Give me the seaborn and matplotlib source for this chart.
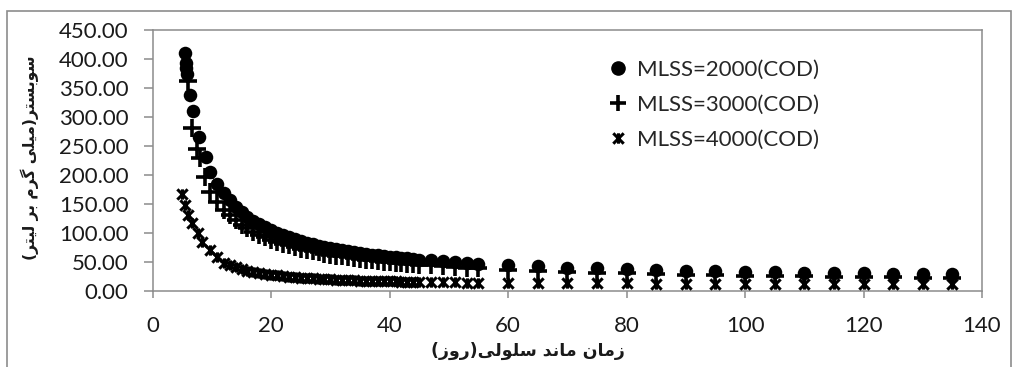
import numpy as np
import pandas as pd
import matplotlib
matplotlib.use("Agg")
import matplotlib.pyplot as plt
from matplotlib.path import Path
from matplotlib.patches import Rectangle
from matplotlib.lines import Line2D
import seaborn as sns

# ---- data: substrate concentration vs. sludge retention time ----
srt_head_2000 = [5.4, 5.55, 5.7, 5.85, 6.3, 6.8, 7.8, 9.0, 9.7, 10.9]
cod_head_2000 = [411, 393, 385, 375, 338, 310, 265, 231, 205, 185]

srt_head_3000 = [5.9, 6.6, 7.4, 8.0, 8.8, 9.7, 10.9]
cod_head_3000 = [362, 281, 245, 229, 197, 171, 154]

srt_head_4000 = [5.0, 5.5, 6.0, 6.6, 7.6, 8.4, 9.6, 10.8]
cod_head_4000 = [168, 148, 131, 117, 100, 85, 71, 59]

srt_common = [12, 13, 14, 15, 16, 17, 18, 19, 20, 21, 22, 23, 24, 25, 26, 27,
              28, 29, 30, 31, 32, 33, 34, 35, 36, 37, 38, 39, 40, 41, 42, 43,
              44, 45, 47, 49, 51, 53, 55, 60, 65, 70, 75, 80, 85, 90, 95, 100,
              105, 110, 115, 120, 125, 130, 135]

cod_2000 = [169.1, 156.3, 145.5, 136.3, 128.3, 121.3, 115.1, 109.6, 104.6, 100.2,
            96.2, 92.5, 89.2, 86.2, 83.4, 80.8, 78.4, 76.1, 74.1, 72.1, 70.3,
            68.6, 67.0, 65.5, 64.1, 62.8, 61.5, 60.3, 59.2, 58.1, 57.1, 56.1,
            55.2, 54.3, 52.6, 51.1, 49.7, 48.4, 47.2, 44.5, 42.3, 40.4, 38.8,
            37.3, 36.0, 34.9, 33.9, 33.0, 32.2, 31.4, 30.8, 30.2, 29.6, 29.1, 28.6]

cod_3000 = [140.5, 130.5, 122.0, 114.6, 108.1, 102.4, 97.3, 92.8, 88.7, 85.0,
            81.6, 78.6, 75.8, 73.2, 70.8, 68.6, 66.5, 64.6, 62.8, 61.1, 59.6,
            58.1, 56.7, 55.4, 54.2, 53.0, 51.9, 50.8, 49.9, 48.9, 48.0, 47.1,
            46.3, 45.5, 44.1, 42.7, 41.5, 40.3, 39.3, 36.9, 34.9, 33.2, 31.7,
            30.4, 29.3, 28.3, 27.4, 26.5, 25.8, 25.1, 24.5, 24.0, 23.4, 23.0, 22.5]

cod_4000 = [49, 45, 41, 38, 35, 33, 31, 29.5, 28, 27, 26, 25, 24, 23.2, 22.5,
            21.8, 21.2, 20.6, 20.1, 19.6, 19.2, 18.8, 18.4, 18.1, 17.8, 17.5,
            17.2, 17.0, 16.7, 16.5, 16.3, 16.1, 15.9, 15.7, 15.3, 15.0, 14.7,
            14.5, 14.3, 13.8, 13.5, 13.3, 13.1, 13.0, 12.9, 12.8, 12.7, 12.6,
            12.5, 12.4, 12.3, 12.3, 12.2, 12.1, 12.0]

series_labels = ["MLSS=2000(COD)", "MLSS=3000(COD)", "MLSS=4000(COD)"]
x_ticks = [0, 20, 40, 60, 80, 100, 120, 140]
y_ticks = [0, 50, 100, 150, 200, 250, 300, 350, 400, 450]
x_title = "زمان ماند سلولی(روز)"
y_title = "سوبستر(میلی گرم بر لیتر)"

# ---- minimal Arabic-script shaping (presentation forms + visual order) ----
FORMS = {
    'ا': ('\uFE8D', '\uFE8E', None, None),
    'ب': ('\uFE8F', '\uFE90', '\uFE91', '\uFE92'),
    'ت': ('\uFE95', '\uFE96', '\uFE97', '\uFE98'),
    'د': ('\uFEA9', '\uFEAA', None, None),
    'ر': ('\uFEAD', '\uFEAE', None, None),
    'ز': ('\uFEAF', '\uFEB0', None, None),
    'س': ('\uFEB1', '\uFEB2', '\uFEB3', '\uFEB4'),
    'ل': ('\uFEDD', '\uFEDE', '\uFEDF', '\uFEE0'),
    'م': ('\uFEE1', '\uFEE2', '\uFEE3', '\uFEE4'),
    'ن': ('\uFEE5', '\uFEE6', '\uFEE7', '\uFEE8'),
    'و': ('\uFEED', '\uFEEE', None, None),
    'ی': ('\uFBFC', '\uFBFD', '\uFBFE', '\uFBFF'),
    'گ': ('\uFB92', '\uFB93', '\uFB94', '\uFB95'),
}


def shape_rtl(text):
    out = []
    for i, ch in enumerate(text):
        forms = FORMS.get(ch)
        if forms is None:
            out.append(ch)
            continue
        prev = text[i - 1] if i > 0 else None
        nxt = text[i + 1] if i + 1 < len(text) else None
        join_prev = prev in FORMS and FORMS[prev][2] is not None
        join_next = forms[2] is not None and nxt in FORMS
        if join_prev and join_next:
            out.append(forms[3])
        elif join_prev:
            out.append(forms[1])
        elif join_next:
            out.append(forms[2])
        else:
            out.append(forms[0])
    mirror = {'(': ')', ')': '('}
    return ''.join(mirror.get(c, c) for c in reversed(out))


# ---- long-form table ----
frames = []
for label, xs, ys in [
    (series_labels[0], srt_head_2000 + srt_common, cod_head_2000 + cod_2000),
    (series_labels[1], srt_head_3000 + srt_common, cod_head_3000 + cod_3000),
    (series_labels[2], srt_head_4000 + srt_common, cod_head_4000 + cod_4000),
]:
    frames.append(pd.DataFrame({"srt": xs, "cod": ys, "series": label}))
df = pd.concat(frames, ignore_index=True)

sns.set_theme(style="white")
plt.rcParams["font.family"] = ["Lato", "DejaVu Sans"]

star = Path([(-1, -1), (1, 1), (-1, 1), (1, -1), (0, -1), (0, 1)],
            [Path.MOVETO, Path.LINETO, Path.MOVETO, Path.LINETO,
             Path.MOVETO, Path.LINETO])

styles = {
    series_labels[0]: dict(marker="o", s=95, linewidth=0),
    series_labels[1]: dict(marker="+", s=150, linewidth=2.6),
    series_labels[2]: dict(marker=star, s=55, linewidth=2.2),
}

fig = plt.figure(figsize=(10.19, 3.67), dpi=100)
ax = fig.add_axes([152.7 / 1019, 1 - 291 / 367, (982 - 152.7) / 1019, (291 - 30) / 367])

for label in series_labels:
    sub = df[df["series"] == label]
    sns.scatterplot(data=sub, x="srt", y="cod", color="black", edgecolor="black",
                    ax=ax, legend=False, zorder=3, **styles[label])

ax.set_xlim(0, 140)
ax.set_ylim(0, 450)
ax.set_xticks(x_ticks)
ax.set_yticks(y_ticks)
ax.set_yticklabels([f"{v:.2f}" for v in y_ticks])
ax.set_xlabel("")
ax.set_ylabel("")

spine_col = "#8c8c8c"
for sp in ax.spines.values():
    sp.set_color(spine_col)
    sp.set_linewidth(1.1)
ax.tick_params(axis="y", direction="out", length=6.5, width=1.1, color=spine_col,
               pad=11, labelsize=16, labelcolor="#1a1a1a", left=True)
ax.tick_params(axis="x", direction="out", length=5, width=1.1, color=spine_col,
               pad=13, labelsize=16, labelcolor="#1a1a1a", bottom=True)

# legend
handles = [
    Line2D([], [], linestyle="none", marker="o", markersize=9.5, color="black"),
    Line2D([], [], linestyle="none", marker="+", markersize=12, markeredgewidth=2.6,
           color="black"),
    Line2D([], [], linestyle="none", marker=star, markersize=7.5, markeredgewidth=2.2,
           color="black"),
]
ax.legend(handles, series_labels, loc="upper left", frameon=False,
          bbox_to_anchor=(609 / 1019, 1 - 60 / 367), bbox_transform=fig.transFigure,
          fontsize=16, handlelength=0.8, handletextpad=0.45, labelspacing=0.68,
          borderaxespad=0, borderpad=0)

# axis titles
fig.text(528 / 1019, 1 - 351 / 367, shape_rtl(x_title), ha="center", va="center",
         fontsize=12.5, fontweight="bold", family="DejaVu Sans", color="#1a1a1a")
fig.text(30 / 1019, 1 - 158 / 367, shape_rtl(y_title), ha="center", va="center",
         rotation=90, fontsize=11.2, fontweight="bold", family="DejaVu Sans",
         color="#1a1a1a")

# chart-area border
fig.patches.append(Rectangle((7 / 1019, -0.05), (1011 - 7) / 1019, 1.05 - 11 / 367,
                             transform=fig.transFigure, fill=False,
                             edgecolor="#8c8c8c", linewidth=1.2))

fig.savefig("out.png", dpi=100)
